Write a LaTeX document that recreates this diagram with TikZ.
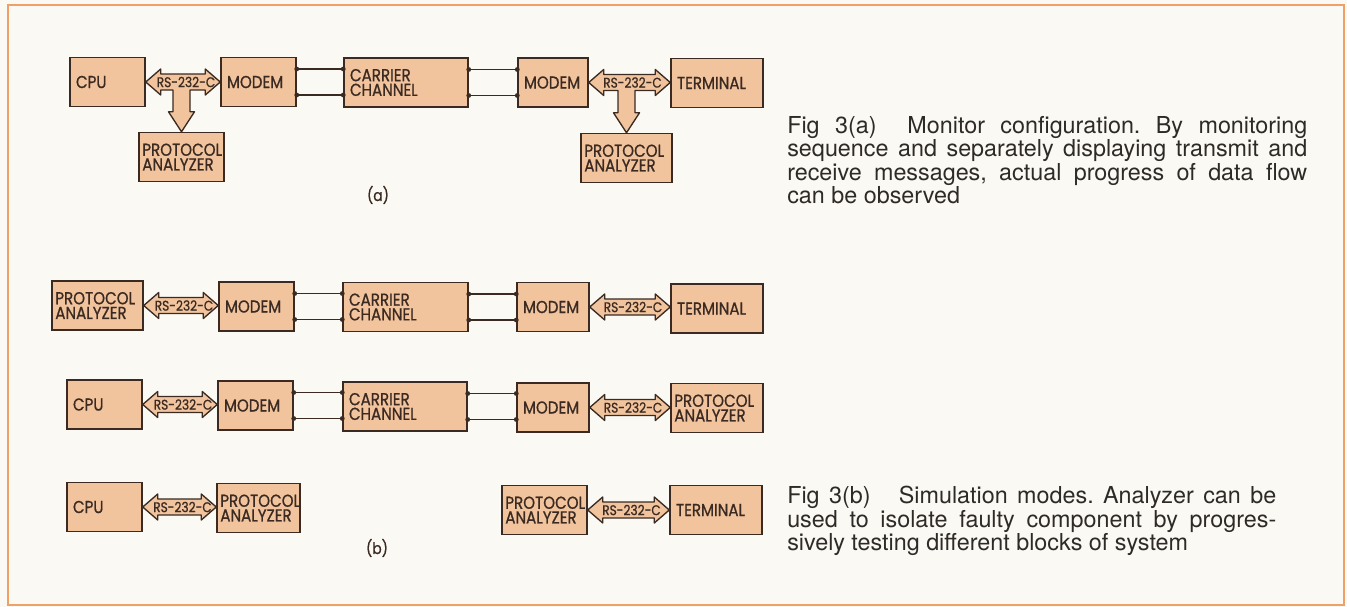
\documentclass[tikz,border=0pt]{standalone}
\usepackage{fontspec}
\usepackage{tikz}
\usetikzlibrary{calc}
\newfontfamily\boxfont[FakeStretch=0.87,FakeBold=0.8]{Poppins}
\newfontfamily\capfont{TeX Gyre Heros}
\definecolor{boxfill}{RGB}{241,196,157}
\definecolor{inkline}{RGB}{58,42,34}
\definecolor{paper}{RGB}{251,249,243}
\definecolor{framecol}{RGB}{240,160,100}
\definecolor{captext}{RGB}{45,42,40}

% RS-232-C double block arrow between two boxes
\newcommand{\rsarrow}[3]{%
  \draw[rsbody] (#2.east) -- ++(15,-13) -- ++(0,5) -- ($(#3.west |- #2.east)+(-15,-8)$) -- ++(0,-5) -- (#3.west |- #2.east) -- ++(-15,13) -- ++(0,-5) -- ($(#2.east)+(15,8)$) -- ++(0,5) -- cycle;
  \node[rstext] (#1) at ($(#2.east)!0.5!(#3.west |- #2.east)+(3,0)$) {RS-232-C};}
% same arrow with a tap going down to a third box
\newcommand{\rstee}[4]{%
  \draw[rsbody] (#2.east) -- ++(15,-13) -- ++(0,5) -- ($(#3.west |- #2.east)+(-15,-8)$) -- ++(0,-5) -- (#3.west |- #2.east) -- ++(-15,13) -- ++(0,-5) -- ($(#4.north |- #2.east)+(8.5,8)$) -- ($(#4.north)+(8.5,-20)$) -- ++(4.5,0) -- (#4.north) -- ++(-13,-20) -- ++(4.5,0) -- ($(#4.north |- #2.east)+(-8.5,8)$) -- ($(#2.east)+(15,8)$) -- ++(0,5) -- cycle;
  \node[rstext] (#1) at ($(#2.east)!0.5!(#3.west |- #2.east)+(3,0)$) {RS-232-C};}
% two line pair with dots
\newcommand{\wirepair}[2]{%
  \foreach \dy in {9.75pt,-9.75pt}{%
    \draw[wire] ([yshift=\dy]#1.east) -- ([yshift=\dy]#1.east -| #2.west);
    \fill[inkline] ([yshift=\dy]#1.east) circle (1.8pt) ([yshift=\dy]#1.east -| #2.west) circle (1.8pt);}}

\begin{document}
\begin{tikzpicture}[x=0.75pt,y=0.75pt,yscale=-1,xscale=1,
  blk/.style={draw=inkline, fill=boxfill, line width=1.1pt, minimum height=36.75pt, inner xsep=4.5pt, inner ysep=0pt, align=left, text=inkline, font=\boxfont\fontsize{13}{11}\selectfont},
  pabox/.style={blk, inner xsep=2.5pt},
  rsbody/.style={draw=inkline, fill=boxfill, line width=1pt, line join=round},
  rstext/.style={inner sep=0pt, text=inkline, font=\boxfont\fontsize{10.5}{11}\selectfont},
  wire/.style={draw=inkline, line width=0.9pt},
  figcap/.style={anchor=north west, inner sep=0pt, align=left, text=captext, font=\capfont\fontsize{17.5}{17.6}\selectfont\frenchspacing},
  sublabel/.style={inner sep=0pt, text=inkline, font=\boxfont\fontsize{12}{12}\selectfont}]
\useasboundingbox (0,0) rectangle (1347,607);

%Shape: Rectangle (paper and frame)
\fill[paper] (0,0) rectangle (1347,607);
\draw[framecol, line width=1.6pt] (8,5) rectangle (1344,605);

%Shape: Rectangle -- row (a)
\node[blk, text width=47.25pt] (cpuA) at (107.5,82) {CPU};
\node[blk, text width=47.25pt] (modemA1) at (258.5,82) {MODEM};
\node[blk, text width=84pt] (carrierA) at (406,82.5) {CARRIER\\CHANNEL};
\node[blk, text width=43.5pt] (modemA2) at (553,82.5) {MODEM};
\node[blk, text width=60pt] (termA) at (717,83) {TERMINAL};
\node[pabox, text width=58.75pt] (paA1) at (181.5,157) {PROTOCOL\\ANALYZER};
\node[pabox, text width=63.25pt] (paA2) at (626.5,158) {PROTOCOL\\ANALYZER};

%Shape: Rectangle -- row (b) 1
\node[pabox, text width=63.25pt] (paB1) at (97.5,305.5) {PROTOCOL\\ANALYZER};
\node[blk, text width=47.25pt] (modemB1) at (256.5,306.5) {MODEM};
\node[blk, text width=84.75pt] (carrierB1) at (405.5,307) {CARRIER\\CHANNEL};
\node[blk, text width=45pt] (modemB1r) at (553,307) {MODEM};
\node[blk, text width=60pt] (termB1) at (717,308.5) {TERMINAL};

%Shape: Rectangle -- row (b) 2
\node[blk, text width=47.25pt] (cpuB2) at (104.5,404.5) {CPU};
\node[blk, text width=47.25pt] (modemB2) at (255.5,405.5) {MODEM};
\node[blk, text width=84pt] (carrierB2) at (405,406.5) {CARRIER\\CHANNEL};
\node[blk, text width=45pt] (modemB2r) at (553,407.5) {MODEM};
\node[pabox, text width=64pt] (paB2) at (717,408) {PROTOCOL\\ANALYZER};

%Shape: Rectangle -- row (b) 3
\node[blk, text width=47.25pt] (cpuB3) at (104.5,507) {CPU};
\node[pabox, text width=57.25pt] (paB3) at (258.5,508) {PROTOCOL\\ANALYZER};
\node[pabox, text width=58.75pt] (paB4) at (544.5,510) {PROTOCOL\\ANALYZER};
\node[blk, text width=60pt] (termB3) at (716,510) {TERMINAL};

%Connectors -- row (a)
\rstee{rsA1}{cpuA}{modemA1}{paA1}
\wirepair{modemA1}{carrierA}
\wirepair{carrierA}{modemA2}
\rstee{rsA2}{modemA2}{termA}{paA2}

%Connectors -- row (b) 1
\rsarrow{rsB1}{paB1}{modemB1}
\wirepair{modemB1}{carrierB1}
\wirepair{carrierB1}{modemB1r}
\rsarrow{rsB2}{modemB1r}{termB1}

%Connectors -- row (b) 2
\rsarrow{rsB3}{cpuB2}{modemB2}
\wirepair{modemB2}{carrierB2}
\wirepair{carrierB2}{modemB2r}
\rsarrow{rsB4}{modemB2r}{paB2}

%Connectors -- row (b) 3
\rsarrow{rsB5}{cpuB3}{paB3}
\rsarrow{rsB6}{paB4}{termB3}

% Text Node
\node[sublabel] (subA) at (378,195) {(a)};
% Text Node
\node[sublabel] (subB) at (377,548) {(b)};

% Text Node
\node[figcap] (capA) at (787,116) {\makebox[390pt][s]{Fig 3(a)\ \ Monitor configuration. By monitoring}\\
\makebox[390pt][s]{sequence and separately displaying transmit and}\\
\makebox[390pt][s]{receive messages, actual progress of data flow}\\
can be observed};
% Text Node
\node[figcap] (capB) at (787,486) {\makebox[366.75pt][s]{Fig 3(b)\ \ \ Simulation modes. Analyzer can be}\\
\makebox[366.75pt][s]{used to isolate faulty component by progres-}\\
sively testing different blocks of system};

\end{tikzpicture}
\end{document}
